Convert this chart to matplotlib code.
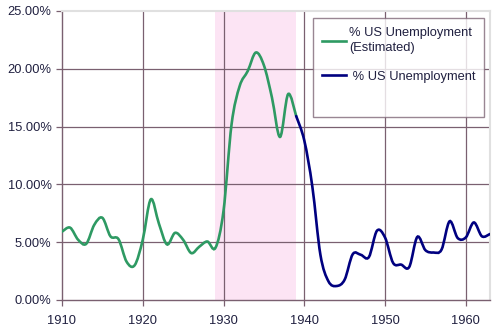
import matplotlib.pyplot as plt
from matplotlib.path import Path
from matplotlib.patches import PathPatch
from matplotlib.lines import Line2D
from matplotlib.ticker import PercentFormatter, MultipleLocator

# estimated series (green)
est_years = list(range(1910, 1940))
est_rate = [5.9, 6.25, 5.2, 4.85, 6.5, 7.1, 5.5, 5.25, 3.3, 3.0,
            5.2, 8.7, 6.6, 4.8, 5.8, 5.2, 4.05, 4.6, 5.05, 4.5,
            7.7, 15.2, 18.5, 19.8, 21.4, 20.3, 17.5, 14.1, 17.8, 15.9]

# measured series (blue)
us_years = list(range(1939, 1964))
us_rate = [15.9, 13.8, 9.8, 3.9, 1.6, 1.2, 1.75, 3.95, 3.9, 3.7,
           5.98, 5.4, 3.2, 3.05, 2.85, 5.45, 4.3, 4.1, 4.35, 6.8,
           5.35, 5.4, 6.7, 5.5, 5.7]


def smooth_path(xs, ys):
    # Excel-style smoothed line: Catmull-Rom segments drawn as cubic Beziers
    pts = list(zip(xs, ys))
    verts = [pts[0]]
    codes = [Path.MOVETO]
    n = len(pts)
    for i in range(n - 1):
        p0 = pts[max(i - 1, 0)]
        p1 = pts[i]
        p2 = pts[i + 1]
        p3 = pts[min(i + 2, n - 1)]
        c1 = (p1[0] + (p2[0] - p0[0]) / 6, p1[1] + (p2[1] - p0[1]) / 6)
        c2 = (p2[0] - (p3[0] - p1[0]) / 6, p2[1] - (p3[1] - p1[1]) / 6)
        verts += [c1, c2, p2]
        codes += [Path.CURVE4] * 3
    return Path(verts, codes)


plt.rcParams['font.family'] = ['Liberation Sans', 'DejaVu Sans']

fig = plt.figure(figsize=(5.0, 3.31), dpi=100)
ax = fig.add_axes([0.124, 0.094, 0.856, 0.873])

green = '#2e9a63'
navy = '#000080'
grid_col = '#7a6070'

ax.axvspan(1929, 1939, color='#fce4f4', zorder=0, lw=0)

for x in [1920, 1930, 1940, 1950, 1960]:
    ax.axvline(x, color=grid_col, lw=0.9, zorder=1)
for y in [5, 10, 15, 20]:
    ax.axhline(y, color=grid_col, lw=0.9, zorder=1)

ax.add_patch(PathPatch(smooth_path(est_years, est_rate), fill=False,
                       edgecolor=green, lw=1.9, zorder=3, capstyle='round'))
ax.add_patch(PathPatch(smooth_path(us_years, us_rate), fill=False,
                       edgecolor=navy, lw=1.9, zorder=4, capstyle='round'))

ax.set_xlim(1910, 1963)
ax.set_ylim(0, 25)
ax.xaxis.set_major_locator(MultipleLocator(10))
ax.yaxis.set_major_locator(MultipleLocator(5))
ax.yaxis.set_major_formatter(PercentFormatter(decimals=2))

for side in ['top', 'right']:
    ax.spines[side].set_color('#e0e0e0')
    ax.spines[side].set_linewidth(1.5)
for side in ['left', 'bottom']:
    ax.spines[side].set_color(grid_col)
    ax.spines[side].set_linewidth(1.0)

ax.tick_params(axis='both', colors=grid_col, labelcolor='#202040',
               labelsize=9.3, length=4, width=0.9)
ax.tick_params(axis='x', pad=7)

# third, empty entry leaves the blank space at the bottom of the box
handles = [Line2D([], [], color=green, lw=1.9),
           Line2D([], [], color=navy, lw=1.9),
           Line2D([], [], color='none')]
labels = ['% US Unemployment\n(Estimated)', ' % US Unemployment', ' ']
leg = ax.legend(handles, labels, loc='upper right',
                bbox_to_anchor=(0.987, 0.975),
                fontsize=9.3, frameon=True, fancybox=False,
                handlelength=1.85, labelspacing=1.25, borderpad=0.7,
                handletextpad=0.25, borderaxespad=0)
leg.get_frame().set_edgecolor('#806878')
leg.get_frame().set_linewidth(1.0)
for t in leg.get_texts():
    t.set_color('#202040')
    t.set_linespacing(1.35)
leg.get_texts()[2].set_fontsize(1)

fig.savefig('out.png', dpi=100)
